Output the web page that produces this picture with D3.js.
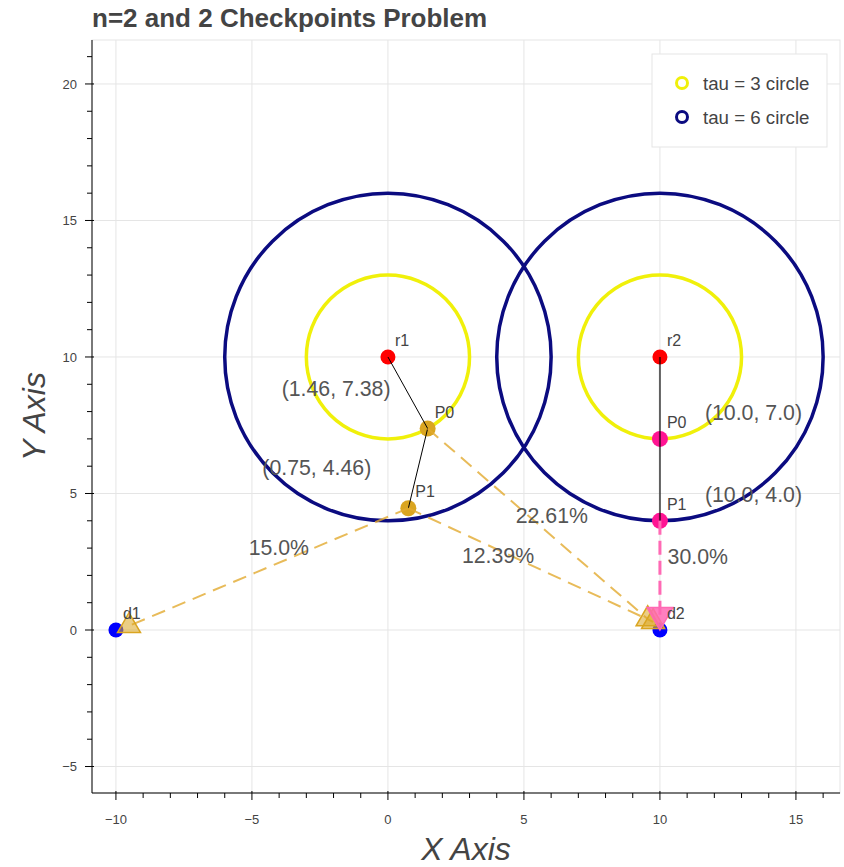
<!DOCTYPE html>
<html>
<head>
<meta charset="utf-8">
<script src="https://cdn.jsdelivr.net/npm/d3@7"></script>
<style>
  body { margin: 0; background: #fff; }
  text { font-family: "Liberation Sans", Arial, sans-serif; }
</style>
</head>
<body>
<script>
var w = 844, h = 867;
var frame = {left: 92, right: 840, top: 40, bottom: 793};

// data
var robotNames = ['r1', 'r2'];
var robotX = [0, 10], robotY = [10, 10];
var tauRadii = [3, 6];
var tauNames = ['tau = 3 circle', 'tau = 6 circle'];
var tauColors = ['#f0f00a', '#0b0b80'];

var r1PathX = [0, 1.46, 0.75], r1PathY = [10, 7.38, 4.46];
var r2PathX = [10, 10, 10], r2PathY = [10, 7.0, 4.0];
var r1CoordLabels = ['(1.46, 7.38)', '(0.75, 4.46)'];
var r2CoordLabels = ['(10.0, 7.0)', '(10.0, 4.0)'];

var depotNames = ['d1', 'd2'];
var depotX = [-10, 10], depotY = [0, 0];

// gold drop triangles and the pink one
var dropX = [-9.52, 9.55, 9.75], dropY = [0.15, 0.4, 0.3];
var pinkDropX = [10], pinkDropY = [0.55];

// dashed links: from point -> to drop, with share label
var linkFromX = [0.75, 1.46, 0.75], linkFromY = [4.46, 7.38, 4.46];
var linkToX = [-9.52, 9.55, 9.75], linkToY = [0.15, 0.4, 0.3];
var shareLabels = ['15.0%', '22.61%', '12.39%', '30.0%'];
var shareX = [-5.12, 4.7, 2.72, 10.28], shareY = [2.73, 3.92, 2.45, 2.4];

var xTicks = [-10, -5, 0, 5, 10, 15];
var yTicks = [-5, 0, 5, 10, 15, 20];

var svg = d3.select('body').append('svg')
    .attr('width', w)
    .attr('height', h);

var x = d3.scaleLinear().domain([-10.88, 16.62]).range([frame.left, frame.right]);
var y = d3.scaleLinear().domain([-5.97, 21.61]).range([frame.bottom, frame.top]);

// grid
svg.append('g').selectAll('line')
    .data(xTicks).enter().append('line')
    .attr('x1', d => x(d)).attr('x2', d => x(d))
    .attr('y1', frame.top).attr('y2', frame.bottom)
    .style('stroke', '#e5e5e5');
svg.append('g').selectAll('line')
    .data(yTicks).enter().append('line')
    .attr('x1', frame.left).attr('x2', frame.right)
    .attr('y1', d => y(d)).attr('y2', d => y(d))
    .style('stroke', '#e5e5e5');
svg.append('rect')
    .attr('x', frame.left).attr('y', frame.top)
    .attr('width', frame.right - frame.left).attr('height', frame.bottom - frame.top)
    .style('fill', 'none').style('stroke', '#e5e5e5');

// tau circles
var plot = svg.append('g');
robotX.forEach(function(cx, i) {
    tauRadii.forEach(function(r, j) {
        plot.append('ellipse')
            .attr('cx', x(cx)).attr('cy', y(robotY[i]))
            .attr('rx', x(r) - x(0)).attr('ry', y(0) - y(r))
            .style('fill', 'none')
            .style('stroke', tauColors[j])
            .style('stroke-width', 3.5);
    });
});

function dots(xs, ys, color, r) {
    plot.append('g').selectAll('circle')
        .data(xs).enter().append('circle')
        .attr('cx', d => x(d))
        .attr('cy', (d, i) => y(ys[i]))
        .attr('r', r)
        .style('fill', color);
}
dots(robotX, robotY, '#ff0000', 7.5);
dots(r1PathX.slice(1), r1PathY.slice(1), '#daa520', 8);
dots(r2PathX.slice(1), r2PathY.slice(1), '#ff1493', 8);
dots(depotX, depotY, '#0000ff', 7.5);

// paths
var line = d3.line().x(d => x(d[0])).y(d => y(d[1]));
plot.append('path')
    .attr('d', line(d3.zip(r1PathX, r1PathY)))
    .style('fill', 'none').style('stroke', '#000').style('stroke-width', 1);
plot.append('path')
    .attr('d', line(d3.zip(r2PathX, r2PathY)))
    .style('fill', 'none').style('stroke', '#000').style('stroke-opacity', 0.6).style('stroke-width', 2);

// dashed links
plot.append('g').selectAll('line')
    .data(linkFromX).enter().append('line')
    .attr('x1', d => x(d)).attr('y1', (d, i) => y(linkFromY[i]))
    .attr('x2', (d, i) => x(linkToX[i])).attr('y2', (d, i) => y(linkToY[i]))
    .style('stroke', '#e2aa30').style('stroke-opacity', 0.8)
    .style('stroke-width', 2).style('stroke-dasharray', '14,8');
plot.append('line')
    .attr('x1', x(r2PathX[2])).attr('y1', y(r2PathY[2]))
    .attr('x2', x(pinkDropX[0])).attr('y2', y(pinkDropY[0]))
    .style('stroke', '#ff69b4').style('stroke-width', 3)
    .style('stroke-dasharray', '14,6');

// triangles (side s, centroid at origin)
function tri(s, down) {
    var hh = s * Math.sqrt(3) / 2, k = down ? -1 : 1;
    return 'M' + (-s / 2) + ',' + (k * hh / 3) + 'L0,' + (-k * 2 * hh / 3) + 'L' + (s / 2) + ',' + (k * hh / 3) + 'Z';
}
plot.append('g').selectAll('path')
    .data(dropX).enter().append('path')
    .attr('d', tri(23, false))
    .attr('transform', (d, i) => 'translate(' + [x(d), y(dropY[i])] + ')')
    .style('fill', '#daa520').style('fill-opacity', 0.55)
    .style('stroke', '#daa520').style('stroke-width', 1.5);
plot.append('g').selectAll('path')
    .data(pinkDropX).enter().append('path')
    .attr('d', tri(26, true))
    .attr('transform', (d, i) => 'translate(' + [x(d), y(pinkDropY[i])] + ')')
    .style('fill', '#ff69b4').style('fill-opacity', 0.85)
    .style('stroke', '#ff69b4').style('stroke-width', 1.5);

// point labels
function names(xs, ys, texts) {
    plot.append('g').selectAll('text')
        .data(texts).enter().append('text')
        .attr('x', (d, i) => x(xs[i]) + 7)
        .attr('y', (d, i) => y(ys[i]) - 11)
        .style('font-size', '16px').style('fill', '#444')
        .text(d => d);
}
names(robotX, robotY, robotNames);
names(r1PathX.slice(1), r1PathY.slice(1), ['P0', 'P1']);
names(r2PathX.slice(1), r2PathY.slice(1), ['P0', 'P1']);
names(depotX, depotY, depotNames);

function coords(xs, ys, texts, dx, dy) {
    plot.append('g').selectAll('text')
        .data(texts).enter().append('text')
        .attr('x', (d, i) => x(xs[i]) + dx)
        .attr('y', (d, i) => y(ys[i]) + dy)
        .style('font-size', '21.3px').style('fill', '#555')
        .text(d => d);
}
coords(r1PathX.slice(1), r1PathY.slice(1), r1CoordLabels, -146, -33);
coords(r2PathX.slice(1), r2PathY.slice(1), r2CoordLabels, 45, -19);

plot.append('g').selectAll('text')
    .data(shareLabels).enter().append('text')
    .attr('x', (d, i) => x(shareX[i]))
    .attr('y', (d, i) => y(shareY[i]))
    .style('font-size', '21.3px').style('fill', '#555')
    .text(d => d);

// axes
var xAxis = svg.append('g');
xAxis.append('line')
    .attr('x1', frame.left).attr('x2', frame.right)
    .attr('y1', frame.bottom).attr('y2', frame.bottom)
    .style('stroke', '#000');
xAxis.selectAll('.minor')
    .data(d3.range(-10, 17)).enter().append('line')
    .attr('x1', d => x(d)).attr('x2', d => x(d))
    .attr('y1', frame.bottom).attr('y2', d => frame.bottom + (d % 5 === 0 ? 7 : 5))
    .style('stroke', '#000');
xAxis.selectAll('.major')
    .data(xTicks).enter().append('line')
    .attr('x1', d => x(d)).attr('x2', d => x(d))
    .attr('y1', frame.bottom - 2).attr('y2', frame.bottom)
    .style('stroke', '#000');
xAxis.selectAll('text')
    .data(xTicks).enter().append('text')
    .attr('x', d => x(d)).attr('y', 824)
    .attr('text-anchor', 'middle')
    .style('font-size', '13px').style('fill', '#444')
    .text(d => d < 0 ? '\u2212' + Math.abs(d) : d);

var yAxis = svg.append('g');
yAxis.append('line')
    .attr('x1', frame.left).attr('x2', frame.left)
    .attr('y1', frame.top).attr('y2', frame.bottom)
    .style('stroke', '#000');
yAxis.selectAll('.minor')
    .data(d3.range(-5, 22)).enter().append('line')
    .attr('y1', d => y(d)).attr('y2', d => y(d))
    .attr('x1', frame.left).attr('x2', d => frame.left - (d % 5 === 0 ? 7 : 5))
    .style('stroke', '#000');
yAxis.selectAll('.major')
    .data(yTicks).enter().append('line')
    .attr('y1', d => y(d)).attr('y2', d => y(d))
    .attr('x1', frame.left).attr('x2', frame.left + 2)
    .style('stroke', '#000');
yAxis.selectAll('text')
    .data(yTicks).enter().append('text')
    .attr('x', 77).attr('y', d => y(d))
    .attr('dy', '0.35em')
    .attr('text-anchor', 'end')
    .style('font-size', '13px').style('fill', '#444')
    .text(d => d < 0 ? '\u2212' + Math.abs(d) : d);

svg.append('text')
    .attr('x', (frame.left + frame.right) / 2).attr('y', 860)
    .attr('text-anchor', 'middle')
    .style('font-size', '32px').style('font-style', 'italic').style('fill', '#444')
    .text('X Axis');
svg.append('text')
    .attr('transform', 'translate(45,' + (frame.top + frame.bottom) / 2 + ') rotate(-90)')
    .attr('text-anchor', 'middle')
    .style('font-size', '32px').style('font-style', 'italic').style('fill', '#444')
    .text('Y Axis');

svg.append('text')
    .attr('x', 92).attr('y', 27)
    .style('font-size', '26px').style('font-weight', 'bold').style('fill', '#444')
    .text('n=2 and 2 Checkpoints Problem');

// legend
var legend = svg.append('g');
legend.append('rect')
    .attr('x', 652).attr('y', 54).attr('width', 175).attr('height', 93)
    .style('fill', '#fff').style('stroke', '#e5e5e5');
legend.selectAll('circle')
    .data(tauNames).enter().append('circle')
    .attr('cx', 682).attr('cy', (d, i) => 83 + i * 34)
    .attr('r', 5.5)
    .style('fill', 'none')
    .style('stroke', (d, i) => tauColors[i])
    .style('stroke-width', 3);
legend.selectAll('text')
    .data(tauNames).enter().append('text')
    .attr('x', 703).attr('y', (d, i) => 83 + i * 34)
    .attr('dy', '0.35em')
    .style('font-size', '18.7px').style('fill', '#444')
    .text(d => d);
</script>
</body>
</html>
